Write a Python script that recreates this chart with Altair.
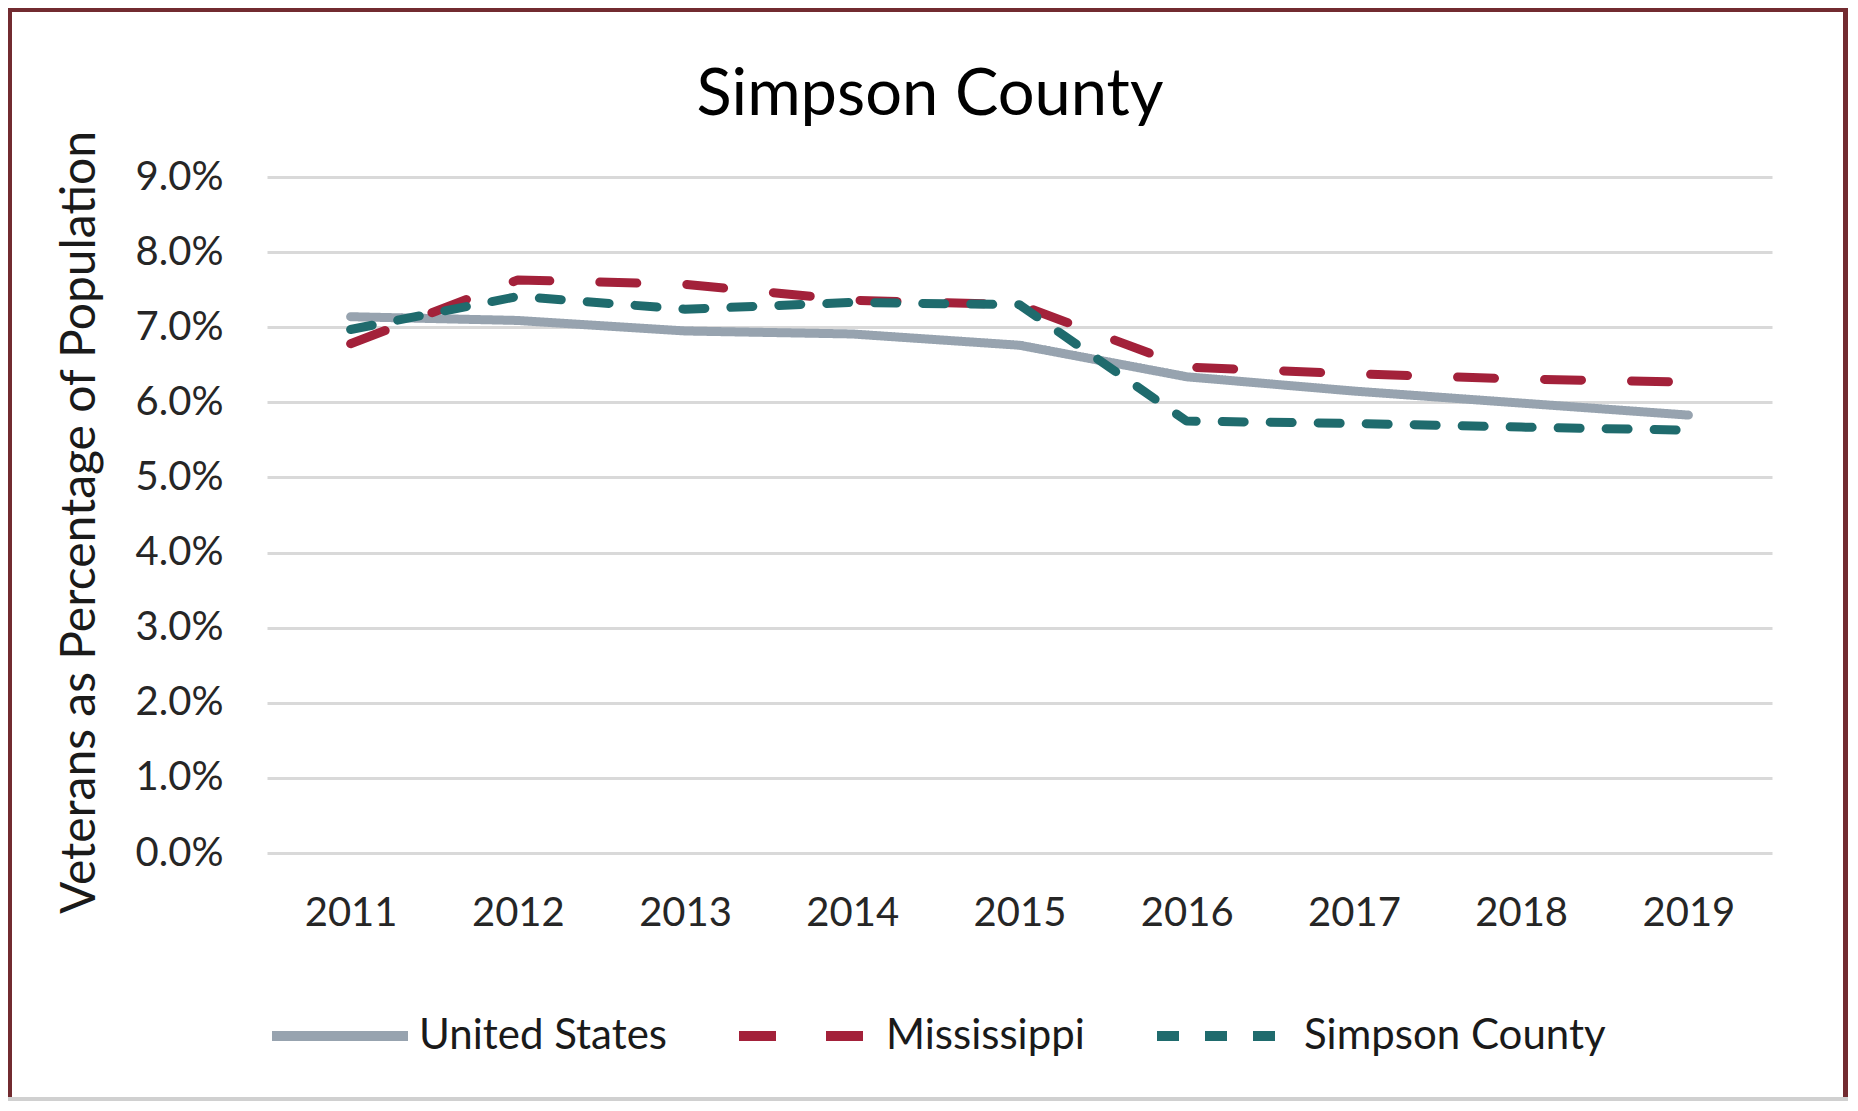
import altair as alt
import pandas as pd

years = ["2011", "2012", "2013", "2014", "2015", "2016", "2017", "2018", "2019"]
series_names = ["United States", "Mississippi", "Simpson County"]
us = [7.14, 7.09, 6.95, 6.91, 6.76, 6.34, 6.15, 5.99, 5.83]
ms = [6.78, 7.63, 7.57, 7.36, 7.30, 6.47, 6.38, 6.31, 6.27]
sc = [6.97, 7.41, 7.24, 7.33, 7.30, 5.75, 5.72, 5.67, 5.63]
y_ticks = [0, 0.01, 0.02, 0.03, 0.04, 0.05, 0.06, 0.07, 0.08, 0.09]
chart_title = "Simpson County"

colors = ["#97A3AF", "#A3213A", "#1F6B6D"]
dashes = [[1, 0], [37, 50], [22, 26]]

rows = []
for name, vals in zip(series_names, [us, ms, sc]):
    for yr, v in zip(years, vals):
        rows.append({"Year": yr, "Series": name, "Value": v / 100.0})
df = pd.DataFrame(rows)

W, H = 1505, 676
PL, PT, PR, PB = 259, 169, 76, 248
FONT = "Lato"
MAROON = "#722B30"

leg = dict(title=None, orient="none", direction="horizontal",
           legendX=0, legendY=786, symbolType="stroke",
           symbolSize=18496, symbolStrokeWidth=10,
           labelFont=FONT, labelFontSize=42, labelColor="#1a1a1a",
           labelOffset=6, columnPadding=52, padding=0, labelLimit=0)

lines = alt.Chart(df).mark_line(strokeWidth=9, strokeCap="round", strokeJoin="round").encode(
    x=alt.X("Year:O", scale=alt.Scale(type="point", padding=0.5),
            axis=alt.Axis(title=None, labelAngle=0, labelFontSize=40, labelPadding=40,
                          labelFont=FONT, labelColor="#262626", domain=False, ticks=False,
                          grid=False)),
    y=alt.Y("Value:Q", scale=alt.Scale(domain=[0, 0.09], nice=False, zero=True),
            axis=alt.Axis(values=y_ticks, format=".1%", title="Veterans as Percentage of Population",
                          labelFontSize=40, labelFont=FONT, labelColor="#262626", labelPadding=44,
                          domain=False, ticks=False, grid=True, gridColor="#D9D9D9", gridWidth=3,
                          titleFont=FONT, titleFontSize=48, titleFontWeight="normal",
                          titleColor="#1a1a1a", titleAngle=270, titleX=-187, titleY=345,
                          titleAlign="center", titleBaseline="middle")),
    color=alt.Color("Series:N", scale=alt.Scale(domain=series_names, range=colors),
                    legend=alt.Legend(**leg)),
    strokeDash=alt.StrokeDash("Series:N", scale=alt.Scale(domain=series_names, range=dashes),
                              legend=alt.Legend(**leg)),
)

frame_df = pd.DataFrame({"k": [0]})
title_df = pd.DataFrame({"t": [chart_title]})
title_mark = alt.Chart(title_df).mark_text(font=FONT, fontSize=65, color="#000000",
                                           align="center", baseline="alphabetic").encode(
    text="t:N", x=alt.value(663), y=alt.value(-62))

top_rule = alt.Chart(frame_df).mark_rule(color=MAROON, strokeWidth=8).encode(
    x=alt.value(-PL), x2=alt.value(W + PR), y=alt.value(-PT), y2=alt.value(-PT))
left_rule = alt.Chart(frame_df).mark_rule(color=MAROON, strokeWidth=8).encode(
    x=alt.value(-PL), x2=alt.value(-PL), y=alt.value(-PT), y2=alt.value(H + PB))
right_rule = alt.Chart(frame_df).mark_rule(color=MAROON, strokeWidth=10).encode(
    x=alt.value(W + PR), x2=alt.value(W + PR), y=alt.value(-PT), y2=alt.value(H + PB))
bottom_rule = alt.Chart(frame_df).mark_rule(color="#D0D0D0", strokeWidth=4).encode(
    x=alt.value(-PL), x2=alt.value(W + PR), y=alt.value(H + PB - 2), y2=alt.value(H + PB - 2))

chart = alt.layer(lines, title_mark, top_rule, left_rule, right_rule, bottom_rule).properties(
    width=W, height=H,
    autosize=alt.AutoSizeParams(type="none"),
    padding={"left": PL, "top": PT, "right": PR, "bottom": PB},
    background="white",
).configure_view(stroke=None)

chart.save("out.html", embed_options={"renderer": "svg", "actions": False})
